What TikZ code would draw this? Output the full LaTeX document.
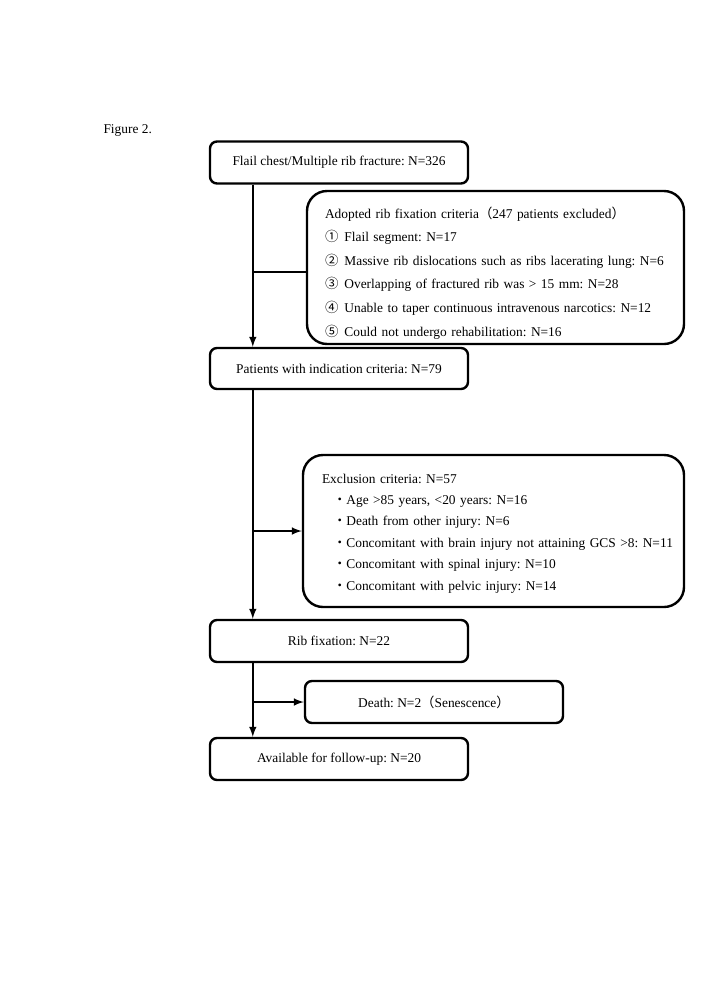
\documentclass[tikz,border=0pt]{standalone}
\usepackage{fontspec}
\setmainfont{Liberation Serif}
\newfontfamily\cjk{Noto Sans CJK JP}
\usetikzlibrary{calc}
\frenchspacing
\begin{document}
\begin{tikzpicture}[x=1pt,y=-1pt,
  box/.style={draw,line width=2.4pt,rounded corners=7pt,inner sep=0pt,font=\fontsize{13.4}{15}\selectfont},
  bigbox/.style={draw,line width=2.4pt,rounded corners=20pt,inner sep=0pt,align=left},
  arr/.style={line width=2.4pt,-{latex}},
  ln/.style={line width=2.4pt}]
\useasboundingbox (0,0) rectangle (708,1002);
\node[anchor=west,font=\fontsize{13.4}{15}\selectfont] (fig) at (100,131) {Figure 2.};
\node[box,minimum width=258,minimum height=42] (flail) at (339,162.5) {Flail chest/Multiple rib fracture: N=326};
\node[bigbox,minimum width=377,minimum height=153,text width=357,font=\fontsize{13.4}{23.6}\selectfont] (adopt) at (495.5,267.5) {\hspace*{8pt}\rule{0pt}{22pt}Adopted rib fixation criteria{\cjk （}247 patients excluded{\cjk ）}\\
\hspace*{8pt}{\cjk ①}\hspace{6pt}Flail segment: N=17\\
\hspace*{8pt}{\cjk ②}\hspace{6pt}Massive rib dislocations such as ribs lacerating lung: N=6\\
\hspace*{8pt}{\cjk ③}\hspace{6pt}Overlapping of fractured rib was \textgreater{} 15 mm: N=28\\
\hspace*{8pt}{\cjk ④}\hspace{6pt}Unable to taper continuous intravenous narcotics: N=12\\
\hspace*{8pt}{\cjk ⑤}\hspace{6pt}Could not undergo rehabilitation: N=16};
\node[box,minimum width=258,minimum height=41] (pat) at (339,368.5) {Patients with indication criteria: N=79};
\node[bigbox,minimum width=381,minimum height=152,text width=363,font=\fontsize{13.4}{21.4}\selectfont] (excl) at (493.5,531) {\hspace*{10pt}\rule{0pt}{14pt}Exclusion criteria: N=57\\
\hspace*{21pt}{\cjk ・}Age \textgreater85 years, \textless20 years: N=16\\
\hspace*{21pt}{\cjk ・}Death from other injury: N=6\\
\hspace*{21pt}{\cjk ・}Concomitant with brain injury not attaining GCS \textgreater8: N=11\\
\hspace*{21pt}{\cjk ・}Concomitant with spinal injury: N=10\\
\hspace*{21pt}{\cjk ・}Concomitant with pelvic injury: N=14};
\node[box,minimum width=258,minimum height=42] (rib) at (339,641) {Rib fixation: N=22};
\node[box,minimum width=258,minimum height=42] (death) at (434,702) {Death: N=2{\cjk （}Senescence{\cjk ）}};
\node[box,minimum width=258,minimum height=42] (avail) at (339,759) {Available for follow-up: N=20};
\coordinate (a1) at ($(flail.south west)+(44,0)$);
\coordinate (a2) at ($(pat.north west)+(44,0)$);
\draw[arr] (a1) -- (a2);
\draw[ln] (a1 |- 0,272) -- (adopt.west |- 0,272);
\coordinate (b1) at ($(pat.south west)+(44,0)$);
\coordinate (b2) at ($(rib.north west)+(44,0)$);
\draw[arr] (b1) -- (b2);
\draw[arr] (b1 |- excl.west) -- (excl.west);
\coordinate (c1) at ($(rib.south west)+(44,0)$);
\coordinate (c2) at ($(avail.north west)+(44,0)$);
\draw[arr] (c1) -- (c2);
\draw[arr] (c1 |- death.west) -- (death.west);
\end{tikzpicture}
\end{document}
